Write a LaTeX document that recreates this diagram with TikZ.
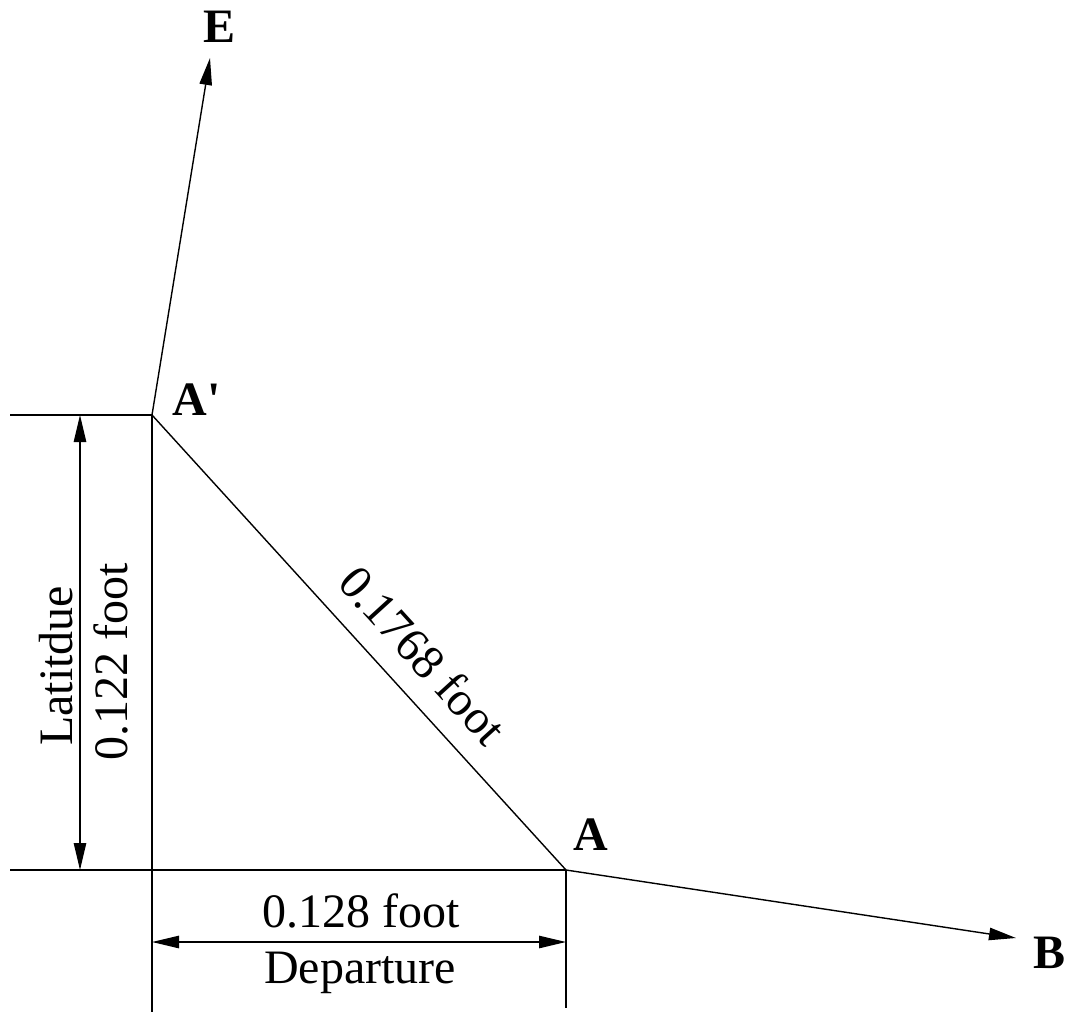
\documentclass[tikz,border=0pt]{standalone}
\usepackage{fontspec}
\setmainfont{Liberation Serif}
\usetikzlibrary{arrows.meta}
\begin{document}
\begin{tikzpicture}[x=0.5pt,y=-0.5pt, line width=0.7pt,
  tipend/.style={-{Triangle[length=13.5pt,width=6.2pt]}},
  dimline/.style={{Triangle[length=13.5pt,width=6.2pt]}-{Triangle[length=13.5pt,width=6.2pt]}},
  lbl/.style={font=\fontsize{24}{28}\selectfont\bfseries, inner sep=0pt},
  txt/.style={font=\fontsize{24}{28}\selectfont, inner sep=0pt}]
\useasboundingbox (0,0) rectangle (1071,1012);
% main points
\coordinate (Ap) at (152,415);
\coordinate (A) at (566,870);
\coordinate (Et) at (210,58);
\coordinate (Bt) at (1016,938);
% extension line ends
\coordinate (ApL) at (10,415);
\coordinate (AL) at (10,870);
\coordinate (ApD) at (152,1012);
\coordinate (AD) at (566,1008);
% dimension ends
\coordinate (LatT) at (80,415);
\coordinate (LatB) at (80,870);
\coordinate (DepL) at (152,942);
\coordinate (DepR) at (566,942);

\draw (ApL) -- (Ap);
\draw (AL) -- (A);
\draw (Ap) -- (ApD);
\draw (A) -- (AD);
\draw (Ap) -- (A);
\draw[tipend] (Ap) -- (Et);
\draw[tipend] (A) -- (Bt);
\draw[dimline] (LatT) -- (LatB);
\draw[dimline] (DepL) -- (DepR);

\node[lbl, anchor=base] (lE) at (220,42) {E};
\node[lbl, anchor=base west] (lAp) at (172,415) {A\textquotesingle};
\node[lbl, anchor=base] (lA) at (591,850) {A};
\node[lbl, anchor=base] (lB) at (1049,968) {B};

\node[txt, rotate=90, anchor=base] (lat) at (72,666) {Latitdue};
\node[txt, rotate=90, anchor=base] (latv) at (127,662) {0.122 foot};
\node[txt, anchor=base] (depv) at (361,927) {0.128 foot};
\node[txt, anchor=base] (dep) at (360,983) {Departure};
\node[txt, rotate=-47.7] (hyp) at (423,655) {0.1768 foot};
\end{tikzpicture}
\end{document}
